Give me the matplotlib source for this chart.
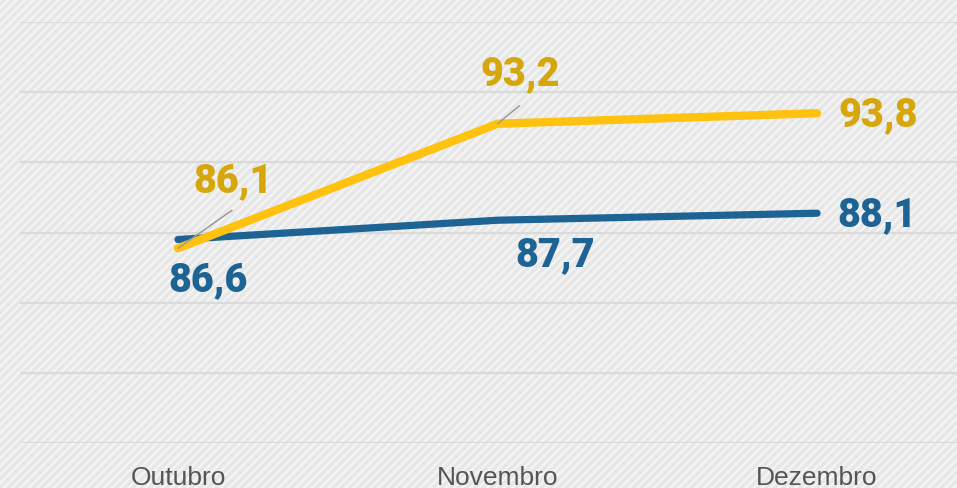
import numpy as np
import matplotlib
matplotlib.use('Agg')
import matplotlib.pyplot as plt
from matplotlib.patches import Rectangle

# data
months = ['Outubro', 'Novembro', 'Dezembro']
serie_amarela = [86.1, 93.2, 93.8]
serie_azul = [86.6, 87.7, 88.1]

cor_amarela = '#ffc20e'
cor_amarela_txt = '#d6a70c'
cor_azul = '#1d6394'

px = 0.72  # pixel -> points at 100 dpi

fig = plt.figure(figsize=(9.57, 4.88), dpi=100)
fig.patch.set_facecolor('#e8e8e8')
plt.rcParams['hatch.linewidth'] = 1.7
fundo = Rectangle((0, 0), 1, 1, transform=fig.transFigure, facecolor='#e7e7e7',
                  edgecolor='#f4f4f4', hatch='////', linewidth=0, zorder=-10)
fig.patches.append(fundo)

ax = fig.add_axes([20/957, 45/488, 937/957, 421/488])
ax.set_facecolor('none')

x = np.arange(len(months))
ax.set_xlim(-0.4945, 2.438)
ax.set_ylim(75, 99)
ax.set_yticks(np.arange(75, 100, 4))
ax.yaxis.grid(True, color='#dadada', lw=1.6)
ax.set_axisbelow(True)
for s in ax.spines.values():
    s.set_visible(False)
ax.tick_params(axis='y', length=0, labelleft=False)
ax.tick_params(axis='x', length=0, pad=16.5, labelsize=19, labelcolor='#555555')
ax.set_xticks(x)
ax.set_xticklabels(months, fontfamily='Liberation Sans')

ax.plot(x, serie_azul, color=cor_azul, lw=5.2, solid_capstyle='round', zorder=3)
ax.plot(x, serie_amarela, color=cor_amarela, lw=6.0, solid_capstyle='round', zorder=4)

def rotulo(xi, yi, txt, dx, dy, cor, ha='center'):
    ax.annotate(txt, (xi, yi), xytext=(dx*px, dy*px), textcoords='offset points',
                ha=ha, va='center', fontsize=28.5, fontweight='black',
                fontfamily='Roboto', color=cor, zorder=6)

def guia(xi, yi, dx, dy):
    ax.annotate('', (xi, yi), xytext=(dx*px, dy*px), textcoords='offset points',
                arrowprops=dict(arrowstyle='-', color='#9a9a9a', lw=1.1,
                                shrinkA=0, shrinkB=0), zorder=5)

fmt = lambda v: ('%.1f' % v).replace('.', ',')

# yellow labels
rotulo(x[0], serie_amarela[0], fmt(serie_amarela[0]), 55, 68, cor_amarela_txt)
guia(x[0], serie_amarela[0], 54, 38)
rotulo(x[1], serie_amarela[1], fmt(serie_amarela[1]), 23, 50, cor_amarela_txt)
guia(x[1], serie_amarela[1], 22, 18)
rotulo(x[2], serie_amarela[2], fmt(serie_amarela[2]), 21, -1, cor_amarela_txt, ha='left')

# blue labels
rotulo(x[0], serie_azul[0], fmt(serie_azul[0]), 30, -40, cor_azul)
rotulo(x[1], serie_azul[1], fmt(serie_azul[1]), 58, -34, cor_azul)
rotulo(x[2], serie_azul[2], fmt(serie_azul[2]), 20, -1, cor_azul, ha='left')

fig.savefig('out.png', dpi=100)
